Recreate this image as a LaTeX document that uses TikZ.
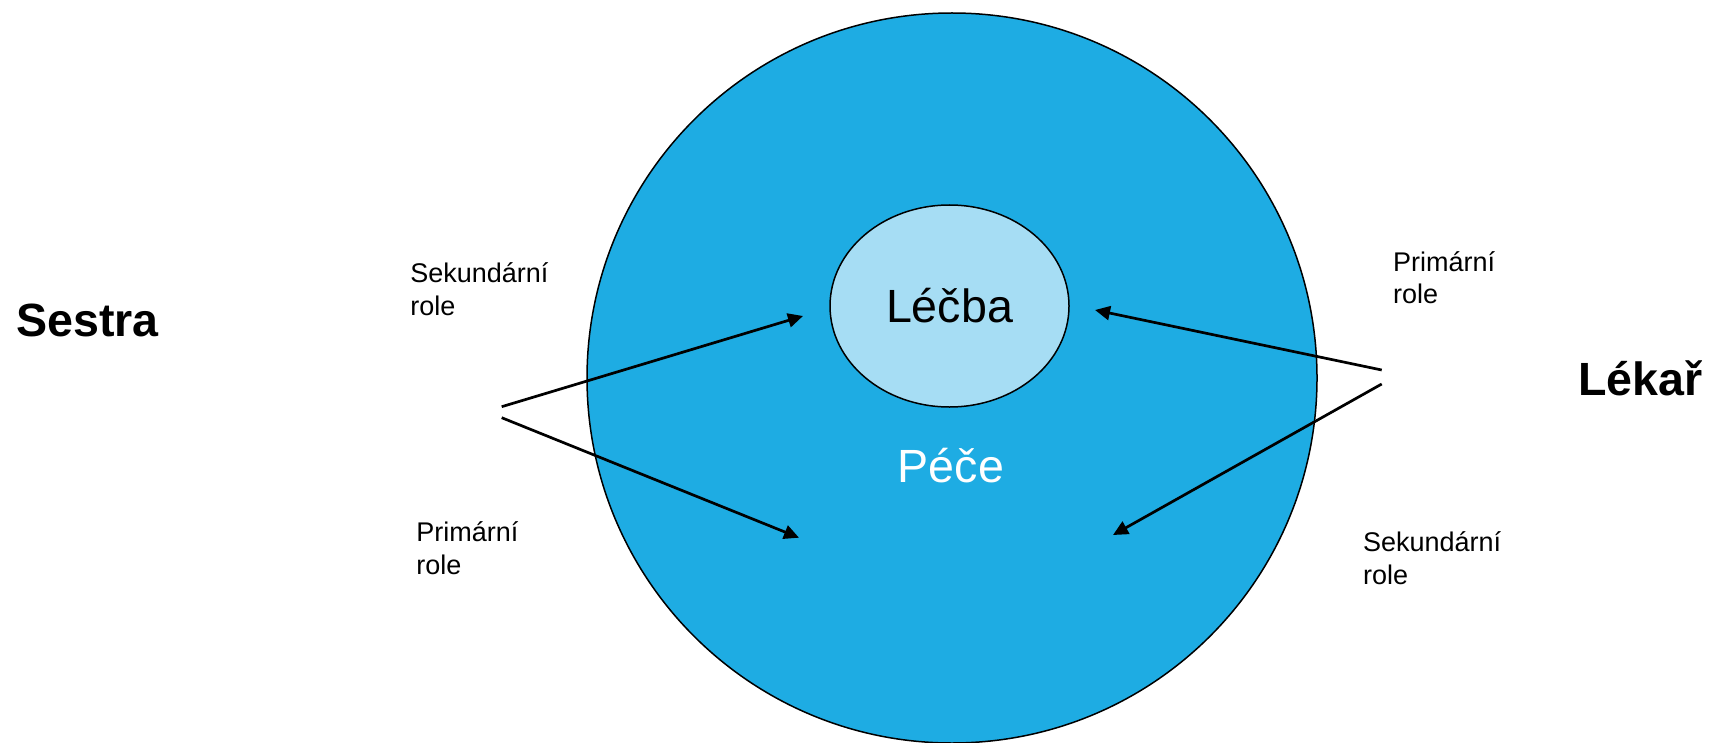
\documentclass[tikz,border=0pt]{standalone}
\usepackage{fontspec}
\setmainfont{Liberation Sans}
\usepackage{xcolor}
\usetikzlibrary{positioning}
\usetikzlibrary{arrows.meta, shapes.geometric}
\definecolor{peceblue}{RGB}{30,172,227}
\definecolor{lecbablue}{RGB}{166,221,244}

\begin{document}
\begin{tikzpicture}[x=0.5pt, y=-0.5pt,
  outer/.style = {draw, circle, fill=peceblue, line width=0.75pt, minimum size=365pt, inner sep=0pt},
  inner/.style = {draw, ellipse, fill=lecbablue, line width=0.75pt, minimum width=119.5pt, minimum height=101pt, inner sep=0pt},
  big/.style = {inner sep=0pt, font=\fontsize{23.3}{28}\selectfont},
  who/.style = {big, font=\fontsize{23.3}{28}\selectfont\bfseries, anchor=base west},
  role/.style = {inner sep=0pt, anchor=base west, align=left, font=\fontsize{13.5}{16.25}\selectfont},
  arr/.style = {line width=1.35pt, -{Triangle[length=7.5pt, width=7pt]}}]
\useasboundingbox (0,0) rectangle (1711,743);
\node[outer] (pece) at (952,378) {};
\node[inner, big] (lecba) at (949.5,306) {Léčba};
\node[big, text=white, anchor=base] (pecetext) at (951,482.7) {Péče};
\node[who] (sestra) at (16,336) {Sestra};
\node[who] (lekar) at (1578,395) {Lékař};
% base = last line
\node[role] (sekL) at (410,315.2) {Sekundární\\role};
\node[role] (primL) at (416,574.2) {Primární\\role};
\node[role] (primR) at (1392.7,303.5) {Primární\\role};
\node[role] (sekR) at (1362.7,584.2) {Sekundární\\role};
% arrow ends
\coordinate (s1) at (501.7,406.7);
\coordinate (s2) at (501.7,417.7);
\coordinate (l1) at (1381.7,370);
\coordinate (l2) at (1381.7,384);
\coordinate (t1) at (803,316);
\coordinate (t2) at (799,537.7);
\coordinate (t3) at (1095,310);
\coordinate (t4) at (1113,535);
\draw[arr] (s1) -- (t1);
\draw[arr] (s2) -- (t2);
\draw[arr] (l1) -- (t3);
\draw[arr] (l2) -- (t4);
\end{tikzpicture}
\end{document}
